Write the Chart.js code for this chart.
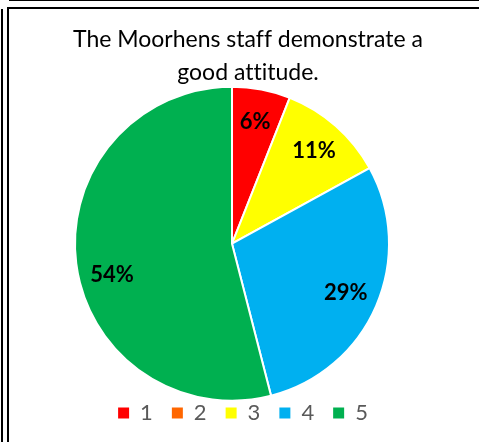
<!DOCTYPE html>
<html>
<head>
<meta charset="utf-8">
<title>The Moorhens staff demonstrate a good attitude.</title>
<script src="https://cdn.jsdelivr.net/npm/chart.js@4.4.1/dist/chart.umd.min.js"></script>
<style>
  html, body { margin: 0; padding: 0; background: #fff; overflow: hidden; }
  .page { position: relative; width: 479px; height: 442px; overflow: hidden; background: #fff; }
  .rule-top { position: absolute; left: 9px; right: 0; top: 0; height: 1px; background: #000; }
  .rule-left { position: absolute; left: 1px; top: 9px; bottom: 0; width: 2px; background: #000; }
  .frame { position: absolute; left: 7px; top: 7px; width: 500px; height: 500px;
           border-left: 2px solid #000; border-top: 2px solid #000; }
  .chart-box { position: absolute; left: 9px; top: 9px; width: 464px; height: 447px; }
</style>
</head>
<body>
<div class="page">
  <div class="rule-top"></div>
  <div class="rule-left"></div>
  <div class="frame"></div>
  <div class="chart-box"><canvas id="attitudeChart"></canvas></div>
</div>

<script>
const categories = ["1", "2", "3", "4", "5"];
const percentages = [6, 0, 11, 29, 54];
const sliceColors = ["#FF0000", "#FF6600", "#FFFF00", "#00B0F0", "#00B050"];
const titleLines = ["The Moorhens staff demonstrate a", "good attitude."];

// Excel places the title, pie and legend on slightly different centres
const nudge = {
  id: "nudge",
  afterLayout(chart, args, opts) {
    const move = (box, d) => {
      box.left += d.x; box.right += d.x;
      box.top += d.y; box.bottom += d.y;
    };
    move(chart.chartArea, opts.pie);
    move(chart.titleBlock, opts.title);
    move(chart.legend, opts.legend);
  },
  beforeDraw(chart) {
    // no "tt"/"ti" ligatures, the original font has none
    chart.ctx.textRendering = "optimizeSpeed";
  }
};

// percentage labels inside the slices
const sliceLabels = {
  id: "sliceLabels",
  afterDatasetsDraw(chart, args, opts) {
    const ctx = chart.ctx;
    const meta = chart.getDatasetMeta(0);
    const values = chart.data.datasets[0].data;
    ctx.save();
    ctx.font = opts.font;
    ctx.fillStyle = opts.color;
    ctx.textAlign = "center";
    ctx.textBaseline = "middle";
    meta.data.forEach((arc, i) => {
      if (!values[i]) return;
      const p = arc.getProps(["x", "y", "startAngle", "endAngle", "outerRadius"], true);
      const mid = (p.startAngle + p.endAngle) / 2 + (opts.angleShift[i] || 0) * Math.PI / 180;
      const r = p.outerRadius * opts.radius;
      ctx.fillText(values[i] + "%", p.x + Math.cos(mid) * r, p.y + Math.sin(mid) * r);
    });
    ctx.restore();
  }
};

new Chart(document.getElementById("attitudeChart"), {
  type: "pie",
  data: {
    labels: categories,
    datasets: [{
      data: percentages,
      backgroundColor: sliceColors,
      borderColor: "#ffffff",
      borderWidth: 2
    }]
  },
  plugins: [nudge, sliceLabels],
  options: {
    responsive: true,
    maintainAspectRatio: false,
    animation: false,
    layout: { padding: 0 },
    plugins: {
      title: {
        display: true,
        text: titleLines,
        color: "#000000",
        font: { family: "Lato", size: 23, weight: "normal", lineHeight: 33 / 23 },
        padding: { top: 14, bottom: 0 }
      },
      legend: {
        position: "bottom",
        labels: {
          boxWidth: 11,
          boxHeight: 11,
          padding: 19,
          color: "#595959",
          font: { family: "Lato", size: 22 },
          generateLabels(chart) {
            return Chart.overrides.doughnut.plugins.legend.labels.generateLabels(chart)
              .map(item => Object.assign(item, { lineWidth: 0 }));
          }
        }
      },
      tooltip: { enabled: false },
      nudge: {
        pie: { x: -9, y: -3.3 },
        title: { x: 7, y: 0 },
        legend: { x: 2, y: -22 }
      },
      sliceLabels: {
        font: "bold 22px Lato",
        color: "#000000",
        radius: 0.79,
        angleShift: [0, 0, 0, 0, -7.4]
      }
    }
  }
});
</script>
</body>
</html>
